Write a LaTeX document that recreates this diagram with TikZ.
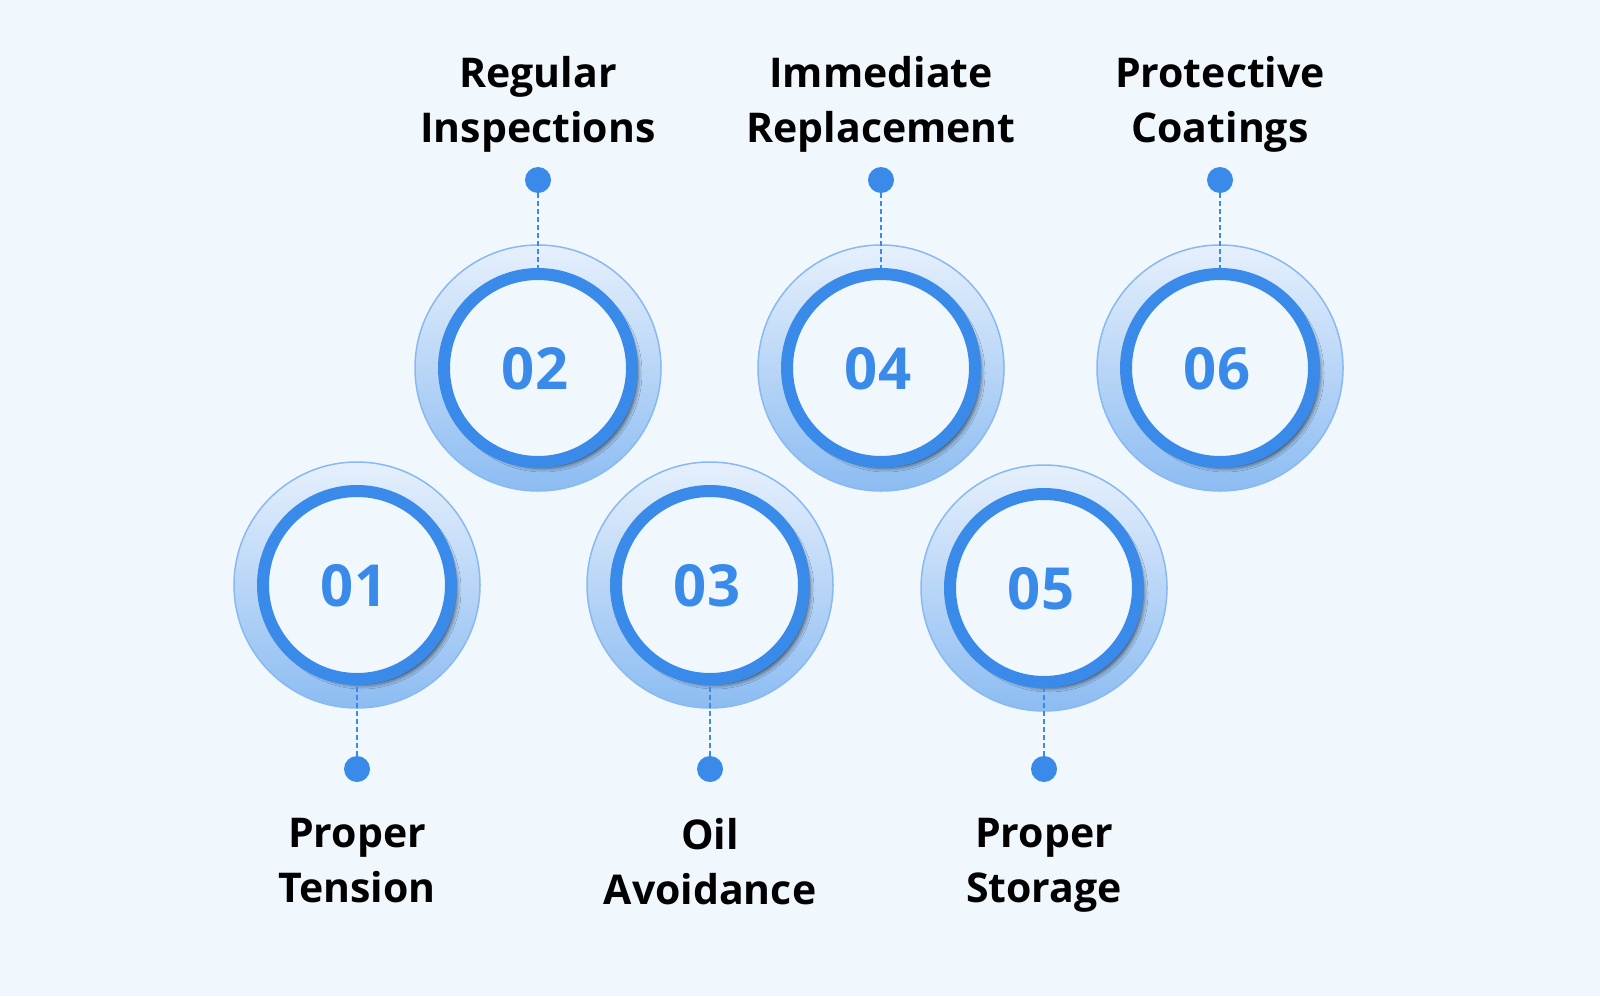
\documentclass[tikz,border=0pt]{standalone}
\usepackage{fontspec}
\setmainfont{Open Sans}
\usetikzlibrary{shadows.blur}
\definecolor{bg}{HTML}{F0F8FE}
\definecolor{blu}{HTML}{3A8BE9}
\definecolor{halotop}{HTML}{E6F0FC}
\definecolor{halobot}{HTML}{8CBCF2}
\tikzset{
 halo/.style={circle,minimum size=246pt,inner sep=0pt,top color=halotop,bottom color=halobot,draw=blu!60,line width=1.5pt},
 ring/.style={circle,minimum size=188pt,inner sep=0pt,fill=bg,draw=blu,line width=12pt,blur shadow={shadow xshift=5pt,shadow yshift=-5pt,shadow blur radius=5pt,shadow opacity=85}},
 num/.style={font=\bfseries\fontsize{58}{60}\selectfont,text=blu},
 dot/.style={circle,fill=blu,minimum size=26pt,inner sep=0pt},
 lab/.style={font=\bfseries\fontsize{41}{55}\selectfont,align=center,text=black,anchor=north,inner sep=0pt},
 conn/.style={blu,dash pattern=on 5pt off 3pt,line width=1.2pt}
}
\begin{document}
\begin{tikzpicture}[x=1pt,y=-1pt]
\fill[bg] (0,0) rectangle (1600,996);
\useasboundingbox (0,0) rectangle (1600,996);
\foreach \n/\x/\y in {1/357/585,2/538/368,3/710/585,4/881/368,5/1044/588,6/1220/368}{
 \node[halo] (h\n) at (\x,\y) {};
 \node[ring] (c\n) at (\x,\y) {};
 \node[num] (t\n) at (\x-3,\y+1) {0\n};
}
\foreach \n/\x in {2/538,4/881,6/1220}{
 \node[dot] (d\n) at (\x,180) {};
 \draw[conn] (d\n) -- (c\n.north);
}
\foreach \n/\x in {1/357,3/710,5/1044}{
 \node[dot] (d\n) at (\x,769) {};
 \draw[conn] (d\n) -- (c\n.south);
}
\node[lab] (l2) at (538,56) {Regular\\Inspections};
\node[lab] (l4) at (881,56) {Immediate\\Replacement};
\node[lab] (l6) at (1220,56) {Protective\\Coatings};
\node[lab] (l1) at (357,818) {Proper\\Tension};
\node[lab] (l3) at (710,818) {Oil\\Avoidance};
\node[lab] (l5) at (1044,818) {Proper\\Storage};
\end{tikzpicture}
\end{document}
